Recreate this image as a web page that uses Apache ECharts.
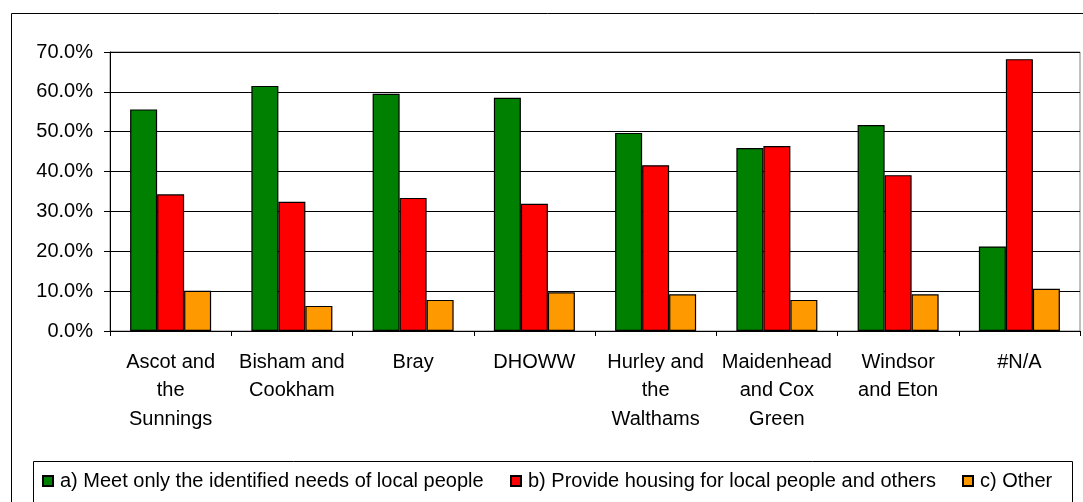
<!DOCTYPE html>
<html>
<head>
<meta charset="utf-8">
<script src="https://cdn.jsdelivr.net/npm/echarts@6/dist/echarts.min.js"></script>
<style>
  html, body { margin: 0; padding: 0; background: #fff; }
  #chart { width: 1083px; height: 502px; }
</style>
</head>
<body>
<div id="chart"></div>
<script>
// Area names (line breaks as shown under the axis)
const categories = [
  'Ascot and\nthe\nSunnings',
  'Bisham and\nCookham',
  'Bray',
  'DHOWW',
  'Hurley and\nthe\nWalthams',
  'Maidenhead\nand Cox\nGreen',
  'Windsor\nand Eton',
  '#N/A'
];

// Share of responses per area, in percent
const meetLocalNeeds = [55.6, 61.5, 59.5, 58.5, 49.7, 45.9, 51.7, 21.2];
const localAndOthers = [34.3, 32.4, 33.4, 31.9, 41.6, 46.4, 39.1, 68.2];
const otherAnswer    = [10.1, 6.3, 7.8, 9.7, 9.2, 7.8, 9.2, 10.6];

const seriesNames = [
  'a) Meet only the identified needs of local people',
  'b) Provide housing for local people and others',
  'c) Other'
];
const seriesColors = ['#008000', '#FF0000', '#FF9900'];
const seriesValues = [meetLocalNeeds, localAndOthers, otherAnswer];

const FONT = "'Liberation Sans', Arial, sans-serif";

const chart = echarts.init(document.getElementById('chart'), null, { renderer: 'canvas' });

// one legend block per series, laid out along the boxed legend strip
const legendLefts = [42, 510, 962];

chart.setOption({
  animation: false,
  backgroundColor: '#fff',
  textStyle: { fontFamily: FONT, color: '#000' },
  grid: {
    left: 110, top: 52, right: 3, bottom: 171,
    show: true, borderColor: '#808080', borderWidth: 1
  },
  graphic: [
    { type: 'rect', shape: { x: 11.5, y: 13.5, width: 1200, height: 700 },
      style: { fill: 'none', stroke: '#000', lineWidth: 1 }, z: -1, silent: true },
    { type: 'rect', shape: { x: 33.5, y: 461.5, width: 1039, height: 80 },
      style: { fill: 'none', stroke: '#000', lineWidth: 1 }, z: -1, silent: true }
  ],
  legend: seriesNames.map((name, i) => ({
    data: [name],
    left: legendLefts[i],
    top: 471,
    padding: 0,
    itemWidth: 10,
    itemHeight: 10,
    itemGap: 0,
    icon: 'rect',
    selectedMode: false,
    textStyle: { fontFamily: FONT, fontSize: 20, color: '#000', padding: [0, 0, 0, 2] }
  })),
  xAxis: {
    type: 'category',
    data: categories,
    axisLine: { lineStyle: { color: '#000', width: 1 } },
    axisTick: { show: true, length: 5, lineStyle: { color: '#000' } },
    axisLabel: {
      fontFamily: FONT, fontSize: 20, color: '#000',
      lineHeight: 28.5, margin: 17, interval: 0
    },
    splitLine: { show: false }
  },
  yAxis: {
    type: 'value',
    min: 0, max: 70, interval: 10,
    axisLine: { show: true, lineStyle: { color: '#000', width: 1 } },
    axisTick: { show: true, length: 6, lineStyle: { color: '#000' } },
    axisLabel: {
      fontFamily: FONT, fontSize: 20, color: '#000', margin: 17,
      formatter: v => v.toFixed(1) + '%'
    },
    splitLine: { show: true, lineStyle: { color: '#000', width: 1 } }
  },
  series: seriesNames.map((name, i) => ({
    name,
    type: 'bar',
    data: seriesValues[i],
    barWidth: 27,
    barGap: '0%',
    itemStyle: { color: seriesColors[i], borderColor: '#000', borderWidth: 1.2 }
  }))
});
</script>
</body>
</html>
